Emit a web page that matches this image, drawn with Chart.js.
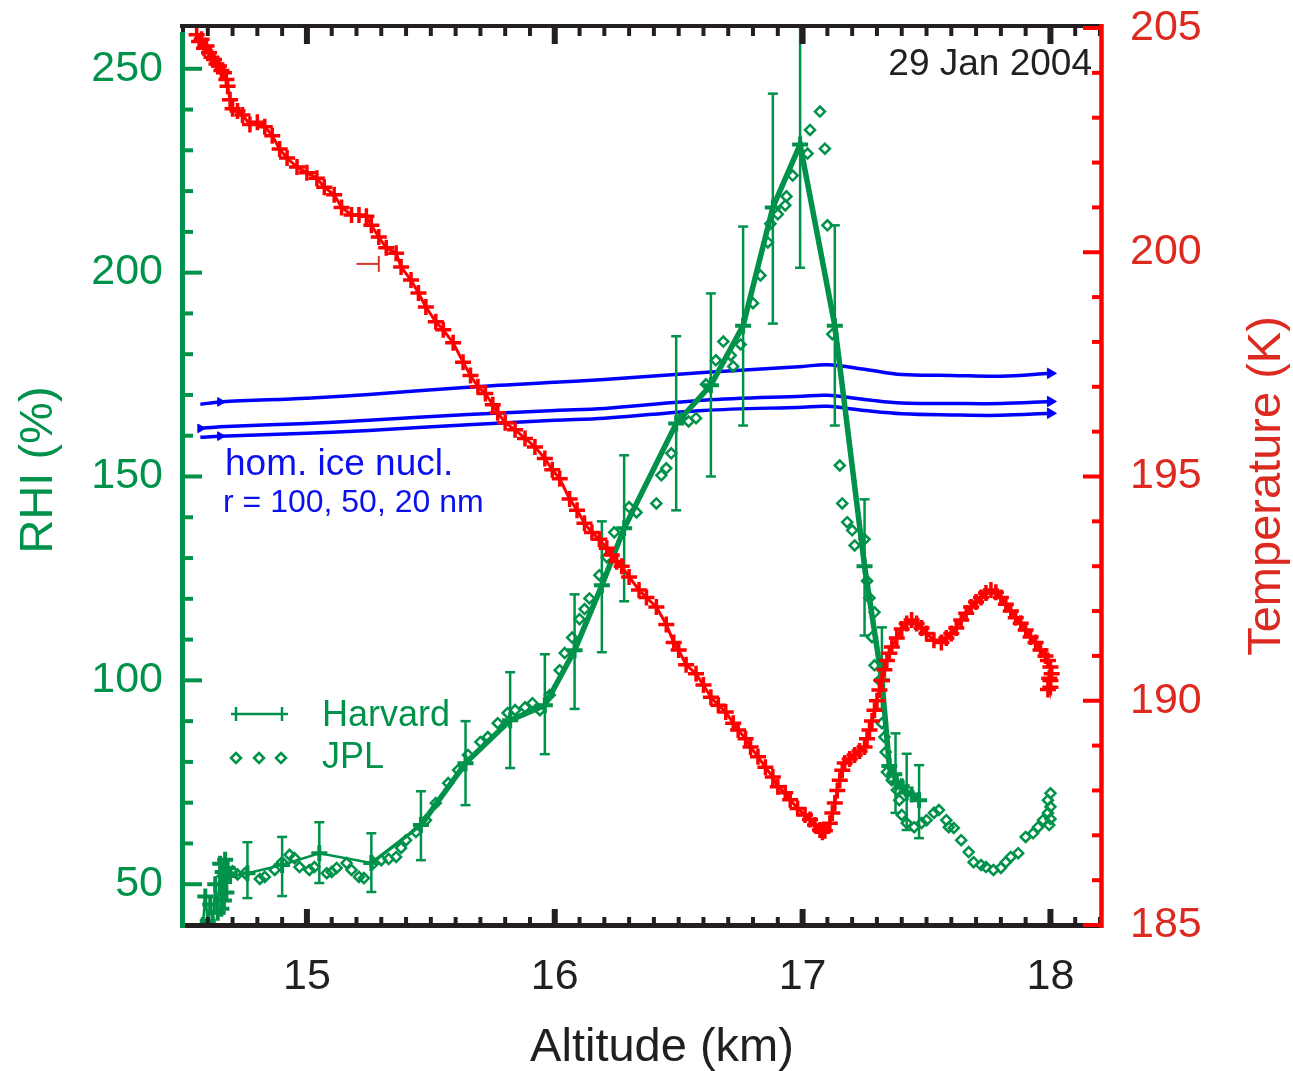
<!DOCTYPE html>
<html lang="en">
<head>
<meta charset="UTF-8" />
<title>RHI and temperature profile, 29 Jan 2004</title>
<script src="https://cdn.jsdelivr.net/npm/chart.js"></script>
<style>
  body { margin: 0; background: #fff; }
  #wrap { width: 1293px; height: 1071px; }
</style>
</head>
<body>
<div id="wrap"><canvas id="rhiChart" width="1293" height="1071"></canvas></div>
<script>
// [altitude km, temperature K]
const temperature = [
  [14.555, 204.85], [14.565, 204.7], [14.575, 204.75], [14.585, 204.55], [14.595, 204.6],
  [14.605, 204.45], [14.615, 204.35], [14.625, 204.3], [14.635, 204.2], [14.645, 204.15],
  [14.655, 204.05], [14.665, 204.0], [14.675, 203.85], [14.68, 203.7], [14.69, 203.4],
  [14.70, 203.2], [14.72, 203.15], [14.74, 203.06], [14.77, 202.85], [14.80, 202.9],
  [14.83, 202.8], [14.86, 202.6], [14.89, 202.3], [14.92, 202.1], [14.96, 201.9],
  [15.00, 201.77], [15.04, 201.65], [15.07, 201.45], [15.11, 201.28], [15.14, 201.0],
  [15.18, 200.83], [15.21, 200.83], [15.24, 200.8], [15.26, 200.6], [15.29, 200.34],
  [15.32, 200.1], [15.36, 199.98], [15.38, 199.67], [15.42, 199.38], [15.45, 199.09],
  [15.48, 198.78], [15.52, 198.45], [15.55, 198.27], [15.59, 197.98], [15.63, 197.55],
  [15.66, 197.25], [15.69, 197.0], [15.72, 196.85], [15.75, 196.6], [15.77, 196.42],
  [15.80, 196.2], [15.84, 196.04], [15.88, 195.85], [15.92, 195.66], [15.96, 195.4],
  [15.99, 195.15], [16.02, 194.95], [16.06, 194.5], [16.09, 194.25], [16.12, 193.96],
  [16.15, 193.75], [16.18, 193.6], [16.21, 193.4], [16.23, 193.25], [16.25, 193.1],
  [16.27, 193.0], [16.30, 192.76], [16.34, 192.47], [16.37, 192.3], [16.41, 192.09],
  [16.45, 191.7], [16.48, 191.3], [16.50, 191.13], [16.53, 190.8], [16.57, 190.6],
  [16.60, 190.35], [16.63, 190.08], [16.66, 189.9], [16.69, 189.75], [16.72, 189.5],
  [16.74, 189.35], [16.77, 189.15], [16.79, 188.97], [16.82, 188.75], [16.85, 188.52],
  [16.88, 188.3], [16.90, 188.08], [16.93, 187.95], [16.95, 187.79], [16.98, 187.6],
  [17.01, 187.45], [17.03, 187.35], [17.05, 187.23], [17.07, 187.12], [17.08, 187.07],
  [17.09, 187.1], [17.11, 187.27], [17.12, 187.5], [17.13, 187.72], [17.14, 188.0],
  [17.15, 188.23], [17.16, 188.45], [17.17, 188.61], [17.19, 188.7], [17.21, 188.79],
  [17.23, 188.88], [17.25, 188.97], [17.26, 189.15], [17.27, 189.35], [17.28, 189.55],
  [17.29, 189.79], [17.30, 190.0], [17.31, 190.24], [17.32, 190.45], [17.33, 190.69],
  [17.34, 190.9], [17.35, 191.06], [17.36, 191.2], [17.38, 191.4], [17.40, 191.6],
  [17.42, 191.72], [17.44, 191.8], [17.46, 191.72], [17.48, 191.62], [17.50, 191.5],
  [17.53, 191.35], [17.56, 191.3], [17.58, 191.4], [17.60, 191.5], [17.62, 191.62],
  [17.64, 191.8], [17.66, 191.95], [17.68, 192.09], [17.70, 192.2], [17.72, 192.3],
  [17.74, 192.4], [17.76, 192.47], [17.78, 192.42], [17.80, 192.3], [17.82, 192.15],
  [17.84, 192.0], [17.86, 191.85], [17.88, 191.73], [17.90, 191.58], [17.92, 191.42],
  [17.94, 191.3], [17.96, 191.13], [17.98, 191.0], [17.99, 190.9], [18.00, 190.75],
  [17.995, 190.5], [18.00, 190.3], [18.005, 190.6], [17.99, 190.25], [18.00, 190.45]
];

// altitude uncertainty mark on the temperature axis
const tempErr = [[15.20, 199.74], [15.29, 199.74]];

// [altitude km, RHI %]
const harvard = [
  [14.58, 40], [14.59, 47], [14.60, 41], [14.61, 45], [14.62, 40], [14.63, 50], [14.64, 43],
  [14.65, 55], [14.655, 44], [14.66, 53], [14.665, 46], [14.67, 56], [14.675, 48], [14.68, 54],
  [14.69, 52],
  [14.76, 52.7], [14.90, 54.7], [15.05, 57.6], [15.26, 55.2], [15.46, 64.5], [15.64, 79.7],
  [15.82, 90.2], [15.96, 93.9], [16.08, 107.4], [16.19, 123.3], [16.28, 137.3], [16.49, 163],
  [16.63, 172.4], [16.76, 187], [16.88, 216], [16.99, 231.4], [17.13, 187], [17.25, 128],
  [17.32, 100], [17.35, 79], [17.37, 77], [17.38, 75], [17.40, 74], [17.42, 72.5],
  [17.44, 72], [17.47, 70.6]
];

// [altitude km, low, high]
const harvardErr = [
  [14.76, 46.6, 60.3], [14.90, 47.1, 61.6], [15.05, 50.3, 65.2], [15.26, 48.1, 62.5],
  [15.46, 55.9, 72.8], [15.64, 69.4, 90.0], [15.82, 78.5, 102.0], [15.96, 81.9, 106.4],
  [16.08, 93.0, 121.1], [16.19, 106.9, 139.0], [16.28, 119.4, 155.2], [16.49, 141.7, 184.4],
  [16.63, 150.0, 194.9], [16.76, 162.5, 211.3], [16.88, 187.5, 243.9], [16.99, 201.2, 265],
  [17.13, 162.5, 211.6], [17.25, 111.0, 144.4], [17.32, 93, 113], [17.375, 67.5, 87],
  [17.42, 63.3, 82], [17.47, 61.3, 79.2]
];

const jpl = [
  [14.66, 52.0], [14.68, 52.8], [14.70, 53.2], [14.72, 52.4], [14.75, 52.7], [14.81, 51.3],
  [14.83, 51.8], [14.87, 53.5], [14.90, 55.4], [14.93, 57.2], [14.95, 56.4], [14.97, 54.2],
  [15.01, 53.5], [15.03, 54.2], [15.08, 52.7], [15.10, 53.0], [15.12, 54.0], [15.16, 55.2],
  [15.18, 53.5], [15.21, 51.8], [15.23, 51.5], [15.27, 55.2], [15.30, 55.9], [15.33, 56.2],
  [15.36, 56.7], [15.38, 58.9], [15.40, 60.8], [15.44, 62.8], [15.48, 65.7], [15.52, 69.9],
  [15.57, 74.8], [15.61, 78.0], [15.65, 81.7], [15.70, 84.9], [15.73, 86.1], [15.77, 89.5],
  [15.81, 92.0], [15.84, 92.7], [15.88, 93.4], [15.91, 94.4], [15.94, 92.7], [15.98, 96.4],
  [16.02, 102.5], [16.04, 106.7], [16.07, 110.5], [16.10, 115.0], [16.12, 117.5], [16.14, 120.1],
  [16.18, 125.8], [16.21, 130.2], [16.24, 136.3], [16.30, 142.5], [16.33, 141.2], [16.41, 143.4],
  [16.43, 150.3], [16.45, 152.0], [16.47, 155.7], [16.51, 164.3], [16.54, 163.5], [16.57, 164.3],
  [16.61, 172.6], [16.65, 178.5], [16.68, 183.1], [16.71, 179.7], [16.72, 177.0], [16.75, 182.4],
  [16.80, 192.5], [16.83, 199.3], [16.86, 207.4], [16.87, 212.0], [16.90, 214.3], [16.93, 216.5],
  [16.935, 218.7], [16.96, 223.8], [17.02, 229.2], [17.03, 235.0], [17.07, 239.5], [17.09, 230.4],
  [17.10, 211.6], [17.12, 184.9], [17.15, 152.7], [17.16, 143.4], [17.18, 138.8], [17.20, 136.8],
  [17.21, 133.1], [17.25, 134.6], [17.26, 124.4], [17.27, 120.2], [17.29, 116.7], [17.28, 110.6],
  [17.29, 103.7], [17.31, 100.0], [17.32, 89.5], [17.33, 86.1], [17.335, 82.4], [17.34, 77.5],
  [17.36, 75.5], [17.38, 73.1], [17.39, 70.6], [17.40, 67.0], [17.42, 65.0], [17.45, 64.0],
  [17.48, 65.0], [17.50, 65.7], [17.53, 67.5], [17.55, 68.2], [17.58, 65.7], [17.59, 64.0],
  [17.61, 63.8], [17.64, 60.8], [17.67, 57.9], [17.69, 55.4], [17.72, 54.7], [17.74, 54.2],
  [17.77, 53.5], [17.80, 54.0], [17.82, 55.4], [17.84, 56.7], [17.87, 57.6], [17.90, 61.6],
  [17.93, 62.5], [17.95, 64.0], [17.97, 65.7], [17.99, 67.5], [17.99, 70.6], [18.00, 72.3],
  [18.00, 69.0], [18.00, 66.0], [17.995, 64.5]
];

// homogeneous ice nucleation thresholds
const nuclAlt = [14.57, 14.65, 15.0, 15.25, 15.65, 16.0, 16.2, 16.6, 17.0, 17.1, 17.25, 17.4, 17.6, 17.8, 18.0];
const nucl100 = [167.7, 168.3, 169.2, 170.1, 171.9, 173.1, 173.8, 175.5, 177.0, 177.4, 176.3, 175.0, 174.8, 174.6, 175.3];
const nucl50 = [161.8, 162.2, 163.0, 163.8, 165.2, 166.2, 166.7, 168.7, 169.7, 169.9, 168.9, 168.0, 167.9, 167.9, 168.4];
const nucl20 = [159.6, 159.9, 160.6, 161.3, 162.7, 163.8, 164.3, 166.2, 167.0, 167.2, 166.2, 165.4, 165.1, 165.0, 165.5];

const GREEN = '#00924a';
const RED = '#ff0000';
const RED_TEXT = '#dd2a20';
const BLUE = '#0000ff';
const BLUE_TEXT = '#0b10ee';
const BLACK = '#231f20';
const FONT = "'Liberation Sans', Arial, Helvetica, sans-serif";

const pts = arr => arr.map(([x, y]) => ({x, y}));
const whole = (v, step) => Math.abs(v / step - Math.round(v / step)) < 1e-6;

const errData = [];
harvardErr.forEach(([x, lo, hi]) => {
  errData.push({x, y: lo}, {x, y: hi}, {x, y: null});
});

function nuclSet(values, leftArrow) {
  const last = values.length - 1;
  return {
    label: 'nucl',
    yAxisID: 'y',
    data: nuclAlt.map((a, i) => ({x: a, y: values[i]})),
    showLine: true,
    borderColor: BLUE,
    borderWidth: 3.5,
    tension: 0.35,
    pointStyle: 'triangle',
    pointRotation: 90,
    pointRadius: ctx => ctx.dataIndex === last ? 6 : (ctx.dataIndex === leftArrow ? 5 : 0),
    pointBackgroundColor: BLUE,
    pointBorderColor: BLUE,
    pointBorderWidth: 1
  };
}

function seg(ctx, x1, y1, x2, y2, w) {
  ctx.lineWidth = w;
  ctx.beginPath();
  ctx.moveTo(x1, y1);
  ctx.lineTo(x2, y2);
  ctx.stroke();
}

function vText(ctx, text, x, y, color, size) {
  ctx.save();
  ctx.translate(x, y);
  ctx.rotate(-Math.PI / 2);
  ctx.font = size + 'px ' + FONT;
  ctx.fillStyle = color;
  ctx.textAlign = 'center';
  ctx.textBaseline = 'alphabetic';
  ctx.fillText(text, 0, 0);
  ctx.restore();
}

// y axes: fixed width, no extra room for half labels above/below
function fixY(width) {
  return s => {
    s.width = width;
    s.paddingTop = 0;
    s.paddingBottom = 0;
  };
}

// frame with inward ticks, titles, notes and legend
const framePlugin = {
  id: 'frame',
  afterDraw(chart) {
    const ctx = chart.ctx;
    const {left, right, top, bottom} = chart.chartArea;
    const xs = chart.scales.x, yl = chart.scales.y, yr = chart.scales.y2;
    ctx.save();
    ctx.lineCap = 'butt';

    ctx.strokeStyle = BLACK;
    seg(ctx, left - 3, top - 2, right, top - 2, 4);
    seg(ctx, left - 3, bottom + 0.5, right, bottom + 0.5, 5);
    xs.ticks.forEach(t => {
      const px = xs.getPixelForValue(t.value);
      const major = whole(t.value, 1);
      seg(ctx, px, bottom, px, bottom - (major ? 16 : 8), major ? 6 : 4);
      seg(ctx, px, top, px, top + (major ? 16 : 8), major ? 6 : 4);
    });

    ctx.strokeStyle = GREEN;
    seg(ctx, left - 0.5, top + 4, left - 0.5, bottom + 3, 5);
    yl.ticks.forEach(t => {
      if (t.value <= yl.min || t.value >= yl.max) return;
      const py = yl.getPixelForValue(t.value);
      seg(ctx, left, py, left + (whole(t.value, 50) ? 19 : 10), py, 4);
    });

    ctx.strokeStyle = RED;
    seg(ctx, right + 1.5, top - 4, right + 1.5, bottom + 3, 4.5);
    yr.ticks.forEach(t => {
      const py = yr.getPixelForValue(t.value);
      seg(ctx, right, py, right - (whole(t.value, 5) ? 17 : 8), py, 4);
    });

    // axis titles
    vText(ctx, 'RHI (%)', 52, 470, GREEN, 47);
    vText(ctx, 'Temperature (K)', 1280, 486, RED_TEXT, 47);
    ctx.font = '47px ' + FONT;
    ctx.fillStyle = BLACK;
    ctx.textAlign = 'center';
    ctx.textBaseline = 'alphabetic';
    ctx.fillText('Altitude (km)', 662, 1061);

    // notes
    ctx.font = '37px ' + FONT;
    ctx.textAlign = 'right';
    ctx.fillText('29 Jan 2004', 1092, 75);
    ctx.textAlign = 'left';
    ctx.fillStyle = BLUE_TEXT;
    ctx.fillText('hom. ice nucl.', 225, 475);
    ctx.font = '32px ' + FONT;
    ctx.fillText('r = 100, 50, 20 nm', 223, 512);

    // legend
    ctx.fillStyle = GREEN;
    ctx.font = '36px ' + FONT;
    ctx.fillText('Harvard', 322, 726);
    ctx.fillText('JPL', 322, 768);
    ctx.strokeStyle = GREEN;
    seg(ctx, 231, 714, 288, 714, 2.5);
    seg(ctx, 236, 707, 236, 721, 2.5);
    seg(ctx, 282, 707, 282, 721, 2.5);
    ctx.lineWidth = 2.5;
    [236, 259, 281].forEach(cx => {
      ctx.beginPath();
      ctx.moveTo(cx - 5, 758);
      ctx.lineTo(cx, 753);
      ctx.lineTo(cx + 5, 758);
      ctx.lineTo(cx, 763);
      ctx.closePath();
      ctx.stroke();
    });
    ctx.restore();
  }
};

new Chart(document.getElementById('rhiChart'), {
  type: 'scatter',
  data: {
    datasets: [
      {
        label: 'Temperature',
        yAxisID: 'y2',
        data: pts(temperature),
        showLine: true,
        borderColor: RED,
        borderWidth: 3,
        pointStyle: 'cross',
        pointRadius: 8,
        pointBorderWidth: 3.5,
        pointBorderColor: RED
      },
      {
        label: 'Altitude error',
        yAxisID: 'y2',
        data: pts(tempErr),
        showLine: true,
        borderColor: '#d5342a',
        borderWidth: 2,
        pointStyle: 'line',
        pointRotation: 90,
        pointRadius: [0, 8],
        pointBorderWidth: 2,
        pointBorderColor: '#d5342a'
      },
      {
        label: 'Harvard',
        yAxisID: 'y',
        data: pts(harvard),
        showLine: true,
        borderColor: GREEN,
        borderWidth: 5.5,
        segment: {
          borderWidth: c => c.p0.parsed.x < 15.25 ? 2.5 : (c.p0.parsed.x < 15.45 ? 3.5 : 5.5)
        },
        pointStyle: 'cross',
        pointRadius: 8,
        pointBorderWidth: 4,
        pointBorderColor: GREEN
      },
      {
        label: 'Harvard error',
        yAxisID: 'y',
        data: errData,
        showLine: true,
        spanGaps: false,
        borderColor: GREEN,
        borderWidth: 2.5,
        pointStyle: 'line',
        pointRadius: 5,
        pointBorderWidth: 2.5,
        pointBorderColor: GREEN
      },
      {
        label: 'JPL',
        yAxisID: 'y',
        data: pts(jpl),
        showLine: false,
        pointStyle: 'rectRot',
        pointRadius: 5,
        pointBorderWidth: 2.5,
        pointBorderColor: GREEN,
        pointBackgroundColor: 'rgba(0,0,0,0)'
      },
      nuclSet(nucl100, 1),
      nuclSet(nucl50, 0),
      nuclSet(nucl20, 1)
    ]
  },
  options: {
    responsive: false,
    animation: false,
    events: [],
    layout: { padding: { top: 28, left: 0, right: 0, bottom: 0 } },
    plugins: { legend: { display: false }, tooltip: { enabled: false } },
    scales: {
      x: {
        type: 'linear',
        position: 'bottom',
        min: 14.5,
        max: 18.2,
        grid: { display: false, drawTicks: false },
        border: { display: false },
        ticks: {
          stepSize: 0.1,
          maxTicksLimit: 1000,
          autoSkip: false,
          maxRotation: 0,
          minRotation: 0,
          padding: 26,
          color: BLACK,
          font: { family: FONT, size: 43 },
          callback: v => whole(v, 1) ? String(Math.round(v)) : ''
        },
        afterFit: s => { s.height = 146; s.paddingLeft = 0; s.paddingRight = 0; }
      },
      y: {
        type: 'linear',
        position: 'left',
        min: 40,
        max: 260,
        grid: { display: false, drawTicks: false },
        border: { display: false },
        ticks: {
          stepSize: 10,
          maxTicksLimit: 1000,
          autoSkip: false,
          padding: 20,
          color: GREEN,
          font: { family: FONT, size: 43 },
          callback: v => whole(v, 50) ? String(Math.round(v)) : ''
        },
        afterFit: fixY(183)
      },
      y2: {
        type: 'linear',
        position: 'right',
        min: 185,
        max: 205,
        grid: { display: false, drawTicks: false },
        border: { display: false },
        ticks: {
          stepSize: 1,
          maxTicksLimit: 1000,
          autoSkip: false,
          padding: 30,
          color: RED_TEXT,
          font: { family: FONT, size: 43 },
          callback: v => whole(v, 5) ? String(Math.round(v)) : ''
        },
        afterFit: fixY(193)
      }
    }
  },
  plugins: [framePlugin]
});
</script>
</body>
</html>
